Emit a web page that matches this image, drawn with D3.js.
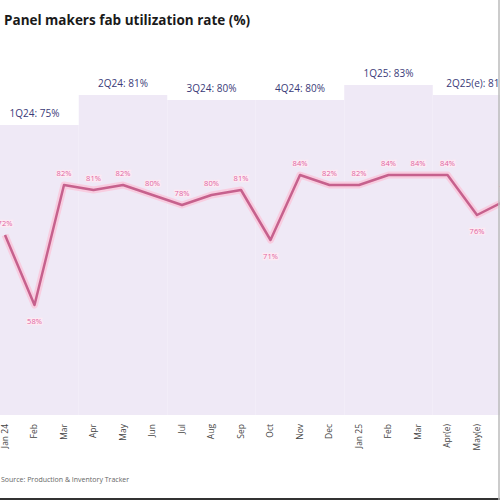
<!DOCTYPE html>
<html>
<head>
<meta charset="utf-8">
<script src="https://cdn.jsdelivr.net/npm/d3@7"></script>
<style>
  body { margin: 0; background: #fff; }
  svg { display: block; font-family: "Open Sans", sans-serif; }
</style>
</head>
<body>
<div id="vis"></div>
<script>
// monthly fab utilization (%) and the quarterly averages behind them
var months = ["Jan 24", "Feb", "Mar", "Apr", "May", "Jun", "Jul", "Aug", "Sep",
              "Oct", "Nov", "Dec", "Jan 25", "Feb", "Mar", "Apr(e)", "May(e)", "Jun(e)"];
var monthly = [72, 58, 82, 81, 82, 80, 78, 80, 81, 71, 84, 82, 82, 84, 84, 84, 76, 79];
var labelBelow = [1, 9, 16];
var quarters = ["1Q24", "2Q24", "3Q24", "4Q24", "1Q25", "2Q25(e)"];
var quarterly = [75, 81, 80, 80, 83, 81];

var W = 500, H = 500;
var plotBottom = 415;

var svg = d3.select("#vis").append("svg")
  .attr("width", W)
  .attr("height", H);

// x: month index (names repeat), chart is cut off on the right like the source
var x = d3.scalePoint()
  .domain(d3.range(months.length))
  .range([5, 5 + 17 * 29.5]);
var step = x.step();

// line axis and the secondary (bar) axis, both hidden
var y = d3.scaleLinear().domain([36, 100]).range([plotBottom, 95]);
var y2 = d3.scaleLinear().domain([17, 85]).range([plotBottom, 75]);

svg.append("text")
  .attr("x", 4)
  .attr("y", 25)
  .attr("font-size", 13.5)
  .attr("font-weight", 700)
  .attr("fill", "#1a1a1a")
  .text("Panel makers fab utilization rate (%)");

// quarterly bars
var qx = function(i) { return x(i * 3) - step / 2; };
svg.append("g").selectAll("rect")
  .data(quarterly)
  .join("rect")
  .attr("x", function(d, i) { return qx(i); })
  .attr("width", step * 3)
  .attr("y", function(d) { return y2(d); })
  .attr("height", function(d) { return plotBottom - y2(d); })
  .attr("fill", "#efe9f6");

// quarter labels in white boxes
var ql = svg.append("g").selectAll("g")
  .data(quarterly)
  .join("g")
  .attr("transform", function(d, i) {
    return "translate(" + (qx(i) + step * 1.5) + "," + (y2(d) - 8) + ")";
  });
ql.append("rect")
  .attr("x", -38).attr("y", -13)
  .attr("width", 76).attr("height", 19)
  .attr("fill", "#fff");
ql.append("text")
  .attr("text-anchor", "middle")
  .attr("font-size", 10)
  .attr("fill", "#3a3a78")
  .text(function(d, i) { return quarters[i] + ": " + d + "%"; });

// monthly line with soft halo
var line = d3.line()
  .x(function(d, i) { return x(i); })
  .y(function(d) { return y(d); });

svg.append("path")
  .datum(monthly)
  .attr("d", line)
  .attr("fill", "none")
  .attr("stroke", "#f8cde0")
  .attr("stroke-width", 7)
  .attr("stroke-linejoin", "round");
svg.append("path")
  .datum(monthly)
  .attr("d", line)
  .attr("fill", "none")
  .attr("stroke", "#c6618d")
  .attr("stroke-width", 2.5)
  .attr("stroke-linejoin", "round");

svg.append("g").selectAll("text")
  .data(monthly)
  .join("text")
  .attr("x", function(d, i) { return x(i); })
  .attr("y", function(d, i) { return labelBelow.indexOf(i) >= 0 ? y(d) + 19 : y(d) - 9; })
  .attr("text-anchor", "middle")
  .attr("font-size", 7.5)
  .attr("fill", "#e0649f")
  .attr("stroke", "#fdeaf3")
  .attr("stroke-width", 2.5)
  .attr("paint-order", "stroke")
  .text(function(d) { return d + "%"; });

// x axis, rotated month labels
var xAxis = svg.append("g")
  .attr("transform", "translate(0," + plotBottom + ")")
  .call(d3.axisBottom(x).tickSize(0).tickPadding(0)
    .tickFormat(function(i) { return months[i]; }));
xAxis.select(".domain").remove();
xAxis.selectAll("text")
  .attr("font-size", 8.5)
  .attr("font-family", "Open Sans")
  .attr("fill", "#444")
  .attr("dy", null)
  .attr("text-anchor", "end")
  .attr("dominant-baseline", "middle")
  .attr("transform", "translate(0,9) rotate(-90)");

svg.append("text")
  .attr("x", 1)
  .attr("y", 482)
  .attr("font-size", 7)
  .attr("fill", "#666")
  .text("Source: Production & Inventory Tracker");

// frame edges of the screenshot
svg.append("line")
  .attr("x1", 0).attr("x2", W).attr("y1", H - 1).attr("y2", H - 1)
  .attr("stroke", "#333").attr("stroke-width", 2);
svg.append("line")
  .attr("x1", W - 1).attr("x2", W - 1).attr("y1", 0).attr("y2", H)
  .attr("stroke", "#bbb").attr("stroke-width", 1.5);
</script>
</body>
</html>
